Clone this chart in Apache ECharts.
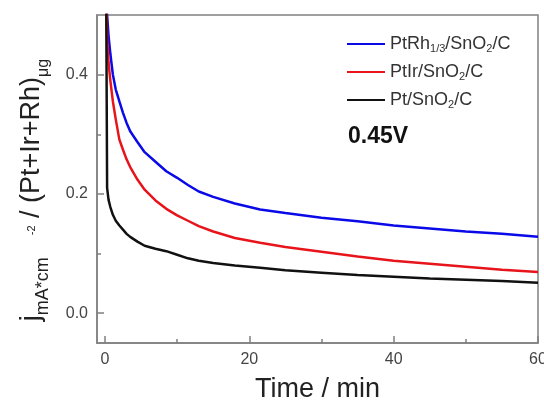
<!DOCTYPE html>
<html>
<head>
<meta charset="utf-8">
<script src="https://cdn.jsdelivr.net/npm/echarts@6/dist/echarts.min.js"></script>
<style>
  html, body { margin: 0; padding: 0; background: #fff; }
  #main { width: 544px; height: 405px; }
</style>
</head>
<body>
<div id="main"></div>
<script>
// time in min
var times = [0.15, 0.3, 0.5, 0.75, 1.1, 1.5, 2, 2.5, 3, 3.5, 4.5, 5.5, 7, 8.5, 10, 11.5, 13, 15, 18, 21.5, 25, 30, 35, 40, 45, 50, 55, 60];
// current density, mA cm^-2 per ug metal
var ptRh = [0.58, 0.50, 0.465, 0.435, 0.40, 0.375, 0.355, 0.336, 0.319, 0.305, 0.287, 0.270, 0.254, 0.238, 0.227, 0.215, 0.204, 0.195, 0.184, 0.174, 0.168, 0.160, 0.154, 0.147, 0.142, 0.137, 0.133, 0.128];
var ptIr = [0.58, 0.46, 0.42, 0.39, 0.355, 0.325, 0.291, 0.274, 0.258, 0.245, 0.224, 0.207, 0.189, 0.175, 0.164, 0.155, 0.146, 0.137, 0.126, 0.118, 0.111, 0.103, 0.095, 0.088, 0.083, 0.078, 0.073, 0.069];
var pt = [0.60, 0.21, 0.19, 0.178, 0.165, 0.155, 0.147, 0.140, 0.133, 0.128, 0.120, 0.113, 0.108, 0.104, 0.098, 0.092, 0.088, 0.084, 0.080, 0.076, 0.072, 0.068, 0.064, 0.061, 0.058, 0.056, 0.054, 0.051];

var names = ['PtRh1/3/SnO2/C', 'PtIr/SnO2/C', 'Pt/SnO2/C'];
var colors = ['#0a0ae8', '#e8141b', '#111111'];
var xMajor = [0, 20, 40, 60];
var xMinor = [10, 30, 50];
var yMajor = [0, 0.2, 0.4];
var yMinor = [0.1, 0.3];

function zip(xs, ys) {
    return xs.map(function (x, i) { return [x, ys[i]]; });
}

var chart = echarts.init(document.getElementById('main'));
var axisColor = '#808080';
var font = 'Liberation Sans';

var legendText = {
    'PtRh1/3/SnO2/C': '{n|PtRh}{s|1/3}{n|/SnO}{s|2}{n|/C}',
    'PtIr/SnO2/C': '{n|PtIr/SnO}{s|2}{n|/C}',
    'Pt/SnO2/C': '{n|Pt/SnO}{s|2}{n|/C}'
};

var option = {
    animation: false,
    backgroundColor: '#fff',
    grid: {
        left: 97, top: 15, right: 6, bottom: 62,
        outerBoundsMode: 'none',
        show: true, borderColor: axisColor, borderWidth: 1.5
    },
    legend: {
        orient: 'vertical',
        left: 347, top: 34,
        padding: 0,
        itemWidth: 38, itemHeight: 2,
        itemGap: 8,
        icon: 'rect',
        data: names,
        formatter: function (name) { return legendText[name]; },
        textStyle: {
            rich: {
                n: { fontFamily: font, fontSize: 18, color: '#333', lineHeight: 20 },
                s: { fontFamily: font, fontSize: 11, color: '#333', verticalAlign: 'bottom', lineHeight: 11, padding: [9, 0, 0, 0] }
            }
        }
    },
    xAxis: [{
        type: 'value', min: -1.1, max: 60,
        position: 'bottom',
        name: 'Time / min', nameLocation: 'middle', nameGap: 33,
        nameTextStyle: { fontFamily: font, fontSize: 27, color: '#222' },
        axisLine: { onZero: false, lineStyle: { color: axisColor, width: 1.5 } },
        axisTick: { inside: true, length: 7, customValues: xMajor, lineStyle: { color: axisColor, width: 1.5 } },
        axisLabel: { customValues: xMajor, margin: 9, fontFamily: font, fontSize: 16, color: '#444' },
        splitLine: { show: false }
    }, {
        type: 'value', min: -1.1, max: 60,
        position: 'bottom',
        axisLine: { show: false, onZero: false },
        axisTick: { inside: true, length: 4, customValues: xMinor, lineStyle: { color: axisColor, width: 1.5 } },
        axisLabel: { show: false },
        splitLine: { show: false }
    }],
    yAxis: [{
        type: 'value', min: -0.05, max: 0.5,
        position: 'left',
        axisLine: { show: true, onZero: false, lineStyle: { color: axisColor, width: 1.5 } },
        axisTick: { show: true, inside: true, length: 7, customValues: yMajor, lineStyle: { color: axisColor, width: 1.5 } },
        axisLabel: { customValues: yMajor, margin: 9, fontFamily: font, fontSize: 16, color: '#444',
            formatter: function (v) { return v.toFixed(1); } },
        splitLine: { show: false }
    }, {
        type: 'value', min: -0.05, max: 0.5,
        position: 'left',
        axisLine: { show: false, onZero: false },
        axisTick: { show: true, inside: true, length: 4, customValues: yMinor, lineStyle: { color: axisColor, width: 1.5 } },
        axisLabel: { show: false },
        splitLine: { show: false }
    }],
    graphic: [{
        type: 'text',
        x: 32, y: 190,
        rotation: Math.PI / 2,
        style: {
            text: '{b|j}{sub|mA*cm}{sup|-2}{b| / (Pt+Ir+Rh)}{sub2|μg}',
            align: 'center', verticalAlign: 'middle',
            rich: {
                b: { fontFamily: font, fontSize: 27, fill: '#222', lineHeight: 32 },
                sub: { fontFamily: font, fontSize: 18, fill: '#222', verticalAlign: 'bottom', lineHeight: 18, padding: [0, 0, -4, 0] },
                sup: { fontFamily: font, fontSize: 11, fill: '#222', verticalAlign: 'middle', lineHeight: 11, padding: [0, 0, 0, 22] },
                sub2: { fontFamily: font, fontSize: 16, fill: '#222', verticalAlign: 'bottom', lineHeight: 16, padding: [0, 0, -4, 0] }
            }
        }
    }, {
        type: 'text',
        left: 348, top: 125,
        style: { text: '0.45V', fontFamily: font, fontSize: 23, fontWeight: 'bold', fill: '#111' }
    }],
    series: [
        { name: names[0], data: zip(times, ptRh) },
        { name: names[1], data: zip(times, ptIr) },
        { name: names[2], data: zip(times, pt) }
    ].map(function (s, i) {
        return {
            name: s.name, type: 'line', data: s.data,
            xAxisIndex: 0, yAxisIndex: 0,
            showSymbol: false, symbol: 'none',
            smooth: false,
            clip: true,
            color: colors[i],
            lineStyle: { color: colors[i], width: 2.5 }
        };
    })
};
chart.setOption(option);
</script>
</body>
</html>
